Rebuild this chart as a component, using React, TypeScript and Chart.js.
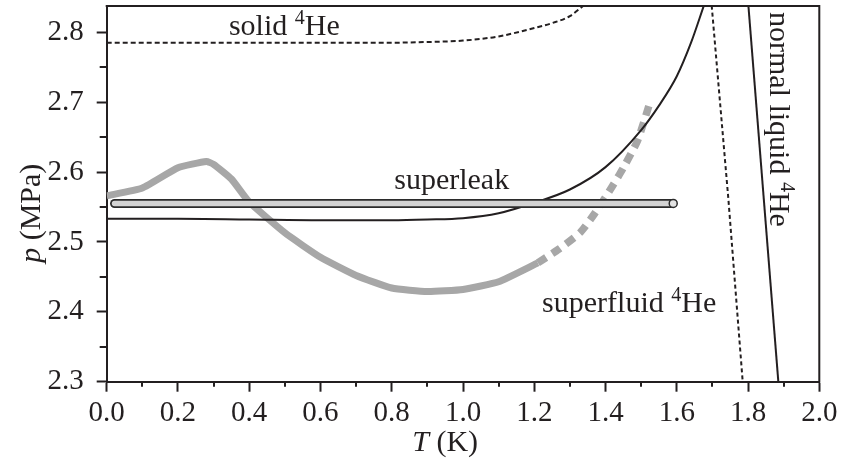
import React, { useEffect, useRef } from "react";
import { Chart, registerables } from "chart.js";

Chart.register(...registerables);

const SERIF = '"Liberation Serif", "Times New Roman", serif';
const INK = "#231f20";

// ---- axis ticks ----
const xMajorTicks = [0, 0.2, 0.4, 0.6, 0.8, 1.0, 1.2, 1.4, 1.6, 1.8, 2.0];
const xMinorTicks = [0.1, 0.3, 0.5, 0.7, 0.9, 1.1, 1.3, 1.5, 1.7, 1.9];
const yMajorTicks = [2.3, 2.4, 2.5, 2.6, 2.7, 2.8];
const yMinorTicks = [2.35, 2.45, 2.55, 2.65, 2.75];

// ---- solid 4He boundary (dotted) ----
const solidT = [0, 0.8, 0.9, 1.0, 1.1, 1.2, 1.25, 1.3, 1.338];
const solidP = [2.785, 2.785, 2.786, 2.788, 2.794, 2.806, 2.813, 2.823, 2.838];

// ---- black solid curve ----
const curveT = [0, 0.2, 0.4, 0.6, 0.8, 0.9, 1.0, 1.1, 1.2, 1.3, 1.4, 1.5, 1.55, 1.6, 1.64, 1.676];
const curveP = [2.533, 2.533, 2.532, 2.531, 2.531, 2.532, 2.534, 2.541, 2.556, 2.575, 2.607, 2.66, 2.695, 2.737, 2.785, 2.838];

// ---- lambda line (dashed) ----
const lambdaT = [1.698, 1.712, 1.745, 1.785];
const lambdaP = [2.838, 2.755, 2.56, 2.3];

// ---- normal liquid boundary (solid) ----
const normalT = [1.801, 1.885];
const normalP = [2.838, 2.3];

// ---- gray measured curve ----
const grayT = [0, 0.1, 0.2, 0.28, 0.3, 0.35, 0.4, 0.5, 0.6, 0.7, 0.8, 0.9, 1.0, 1.1, 1.21];
const grayP = [2.566, 2.577, 2.606, 2.615, 2.611, 2.59, 2.557, 2.513, 2.478, 2.452, 2.434, 2.429, 2.432, 2.443, 2.47];
const grayDashT = [1.21, 1.27, 1.33, 1.37, 1.41, 1.45, 1.49, 1.525];
const grayDashP = [2.47, 2.49, 2.514, 2.541, 2.572, 2.606, 2.645, 2.7];

// ---- superleak bar ----
const superleakT = [0.022, 1.585];
const superleakP = [2.555, 2.555];
const superleakEndT = [1.59];
const superleakEndP = [2.555];

const pts = (xs: number[], ys: number[]) => xs.map((x, i) => ({ x, y: ys[i] }));

type Part = { t: string; italic?: boolean; sup?: boolean };

function drawRich(ctx: CanvasRenderingContext2D, parts: Part[], x: number, y: number, rot: number, size: number, align: "left" | "center") {
  const fontFor = (p: Part) => `${p.italic ? "italic " : ""}${p.sup ? Math.round(size * 0.68) : size}px ${SERIF}`;
  let total = 0;
  for (const p of parts) {
    ctx.font = fontFor(p);
    total += ctx.measureText(p.t).width;
  }
  ctx.save();
  ctx.translate(x, y);
  ctx.rotate(rot);
  ctx.fillStyle = INK;
  ctx.textBaseline = "alphabetic";
  ctx.textAlign = "left";
  let cx = align === "center" ? -total / 2 : 0;
  for (const p of parts) {
    ctx.font = fontFor(p);
    ctx.fillText(p.t, cx, p.sup ? -size * 0.36 : 0);
    cx += ctx.measureText(p.t).width;
  }
  ctx.restore();
}

const decorPlugin = {
  id: "decor",
  afterDatasetsDraw(chart: any) {
    const { ctx, chartArea: a, scales } = chart;
    const xs = scales.x;
    const ys = scales.y;
    ctx.save();
    ctx.beginPath();
    ctx.rect(a.left, a.top, a.right - a.left, a.bottom - a.top);
    ctx.clip();
    drawRich(ctx, [{ t: "solid " }, { t: "4", sup: true }, { t: "He" }], xs.getPixelForValue(0.343), ys.getPixelForValue(2.796), 0, 30, "left");
    drawRich(ctx, [{ t: "superleak" }], xs.getPixelForValue(0.807), ys.getPixelForValue(2.575), 0, 30, "left");
    drawRich(ctx, [{ t: "superfluid " }, { t: "4", sup: true }, { t: "He" }], xs.getPixelForValue(1.222), ys.getPixelForValue(2.4), 0, 30, "left");
    drawRich(ctx, [{ t: "normal liquid " }, { t: "4", sup: true }, { t: "He" }], xs.getPixelForValue(1.8616), ys.getPixelForValue(2.829), Math.PI / 2, 30, "left");
    ctx.restore();
  },
  afterDraw(chart: any) {
    const { ctx, chartArea: a, scales } = chart;
    const xs = scales.x;
    const ys = scales.y;
    ctx.save();
    ctx.strokeStyle = INK;
    ctx.lineWidth = 2;
    ctx.beginPath();
    ctx.moveTo(a.left - 1, a.top);
    ctx.lineTo(a.right, a.top);
    ctx.lineTo(a.right, a.bottom + 1);
    ctx.stroke();
    ctx.beginPath();
    for (const t of xMinorTicks) {
      const px = Math.round(xs.getPixelForValue(t));
      ctx.moveTo(px, a.bottom);
      ctx.lineTo(px, a.bottom + 5);
    }
    for (const v of yMinorTicks) {
      const py = Math.round(ys.getPixelForValue(v));
      ctx.moveTo(a.left, py);
      ctx.lineTo(a.left - 7, py);
    }
    ctx.stroke();
    // axis titles
    drawRich(ctx, [{ t: "T", italic: true }, { t: " (K)" }], xs.getPixelForValue(0.95), a.bottom + 69, 0, 30, "center");
    drawRich(ctx, [{ t: "p", italic: true }, { t: " (MPa)" }], a.left - 67, ys.getPixelForValue(2.541), -Math.PI / 2, 30, "center");
    ctx.restore();
  },
};

export default function App() {
  const ref = useRef<HTMLCanvasElement | null>(null);
  useEffect(() => {
    document.body.style.margin = "0";
    const canvas = ref.current;
    if (!canvas) return;
    const tickFont = { family: SERIF, size: 29 };
    const chart = new Chart(canvas, {
      type: "line",
      data: {
        datasets: [
          { data: pts(superleakEndT, superleakEndP), showLine: false, pointRadius: 4, pointBackgroundColor: "#e2e2e2", pointBorderColor: "#2b2b2b", pointBorderWidth: 1.5, order: 0 } as any,
          { data: pts(superleakT, superleakP), borderColor: "#d3d3d3", borderWidth: 5.5, borderCapStyle: "round", pointRadius: 0, order: 1 },
          { data: pts(superleakT, superleakP), borderColor: "#2b2b2b", borderWidth: 9, borderCapStyle: "round", pointRadius: 0, order: 2 },
          { data: pts(curveT, curveP), borderColor: INK, borderWidth: 2, cubicInterpolationMode: "monotone", pointRadius: 0, order: 3 },
          { data: pts(normalT, normalP), borderColor: INK, borderWidth: 2, tension: 0, pointRadius: 0, order: 4 },
          { data: pts(lambdaT, lambdaP), borderColor: INK, borderWidth: 2, borderDash: [4, 3], tension: 0, pointRadius: 0, order: 5 },
          { data: pts(solidT, solidP), borderColor: INK, borderWidth: 2, borderDash: [5, 3], cubicInterpolationMode: "monotone", pointRadius: 0, order: 6 },
          { data: pts(grayDashT, grayDashP), borderColor: "#a7a7a7", borderWidth: 7.5, borderDash: [10, 7], borderCapStyle: "butt", tension: 0.2, pointRadius: 0, order: 7 },
          { data: pts(grayT, grayP), borderColor: "#a7a7a7", borderWidth: 7, borderJoinStyle: "round", tension: 0.15, pointRadius: 0, order: 8 },
        ] as any,
      },
      options: {
        animation: false,
        responsive: false,
        devicePixelRatio: 1,
        events: [],
        layout: { padding: { left: 0, right: 21.7, top: 6, bottom: 0 } },
        plugins: { legend: { display: false }, tooltip: { enabled: false } },
        scales: {
          x: {
            type: "linear",
            min: 0,
            max: 2,
            afterFit: (s: any) => { s.height = 80.3; s.paddingLeft = 0; s.paddingRight = 0; },
            afterBuildTicks: (s: any) => { s.ticks = xMajorTicks.map((v) => ({ value: v })); },
            border: { display: true, color: INK, width: 2 },
            grid: { display: true, drawOnChartArea: false, drawTicks: true, tickLength: 10, tickColor: INK, tickWidth: 2 },
            ticks: { color: INK, font: tickFont, padding: 4, maxRotation: 0, autoSkip: false, callback: (v: any) => Number(v).toFixed(1) },
          },
          y: {
            type: "linear",
            min: 2.3,
            max: 2.8375,
            afterFit: (s: any) => { s.width = 106.7; s.paddingTop = 0; s.paddingBottom = 0; },
            afterBuildTicks: (s: any) => { s.ticks = yMajorTicks.map((v) => ({ value: v })); },
            border: { display: true, color: INK, width: 2 },
            grid: { display: true, drawOnChartArea: false, drawTicks: true, tickLength: 10, tickColor: INK, tickWidth: 2 },
            ticks: { color: INK, font: tickFont, padding: 13, autoSkip: false, callback: (v: any) => Number(v).toFixed(1) },
          },
        },
      } as any,
      plugins: [decorPlugin],
    });
    return () => chart.destroy();
  }, []);
  return <canvas ref={ref} width={841} height={462} style={{ display: "block" }} />;
}
